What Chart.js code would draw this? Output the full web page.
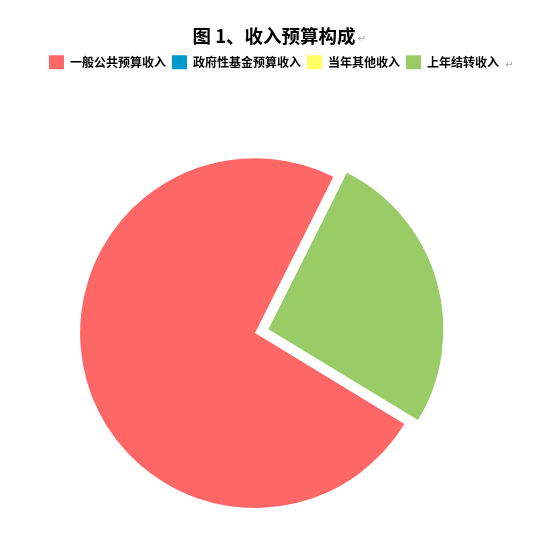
<!DOCTYPE html>
<html lang="zh-CN">
<head>
<meta charset="utf-8">
<title>图 1、收入预算构成</title>
<script src="https://cdn.jsdelivr.net/npm/chart.js@4.4.1/dist/chart.umd.min.js"></script>
<style>
  html, body { margin: 0; padding: 0; background: #fff; }
  #wrap { width: 548px; height: 550px; }
</style>
</head>
<body>
<div id="wrap"><canvas id="pie"></canvas></div>
<script>
const chartTitle = "图 1、收入预算构成";
const categories = ["一般公共预算收入", "政府性基金预算收入", "当年其他收入", "上年结转收入"];
const shares = [73.7, 0, 0, 26.3];
const sliceColors = ["#ff6666", "#0099cc", "#ffff66", "#99cc66"];
// chart.js moves an arc by offset/4 px, so 56 -> ~14px pulled out
const explode = [0, 0, 0, 56];

const CJK = '"Noto Sans CJK SC", "Microsoft YaHei", sans-serif';
const titleFont = { family: CJK, size: 18.5, weight: "bold" };

// word-style page: big gap under the legend, pie sits left of centre,
// and the grey paragraph marks after the title and legend
const pageLayout = {
  id: "pageLayout",
  afterInit(chart) {
    const legend = chart.legend;
    if (!legend || legend._gapPatched) return;
    const fit = legend.fit;
    legend.fit = function () {
      fit.call(this);
      this.height += 51;
    };
    legend._gapPatched = true;
  },
  afterLayout(chart) {
    const area = chart.chartArea;
    area.right -= 38;
    area.width = area.right - area.left;
  },
  afterDraw(chart) {
    const ctx = chart.ctx;
    ctx.save();
    ctx.font = `bold ${titleFont.size}px ${CJK}`;
    const tw = ctx.measureText(chartTitle).width;
    const t = chart.titleBlock;
    const tx = (t.left + t.right) / 2 + tw / 2 + 2;

    ctx.font = '10px "DejaVu Sans", sans-serif';
    ctx.fillStyle = "#a6a6a6";
    ctx.textBaseline = "middle";
    ctx.fillText("↵", tx, 39);

    const boxes = chart.legend.legendHitBoxes;
    const last = boxes[boxes.length - 1];
    ctx.fillText("↵", last.left + last.width + 6, last.top + 10);
    ctx.restore();
  },
};

new Chart(document.getElementById("pie"), {
  type: "pie",
  data: {
    labels: categories,
    datasets: [{
      data: shares,
      backgroundColor: sliceColors,
      borderWidth: 0,
      offset: explode,
      hoverOffset: 0,
    }],
  },
  options: {
    responsive: true,
    maintainAspectRatio: false,
    animation: false,
    events: [],
    rotation: 121.3,
    layout: { padding: { top: 0, bottom: 14, left: 0, right: 0 } },
    plugins: {
      title: {
        display: true,
        text: chartTitle,
        color: "#000",
        font: titleFont,
        padding: { top: 25, bottom: 2 },
      },
      legend: {
        position: "top",
        align: "center",
        labels: {
          boxWidth: 15,
          boxHeight: 14,
          padding: 6,
          color: "#000",
          font: { family: CJK, size: 12, weight: "bold" },
        },
      },
      tooltip: { enabled: false },
    },
  },
  plugins: [pageLayout],
});
</script>
</body>
</html>
